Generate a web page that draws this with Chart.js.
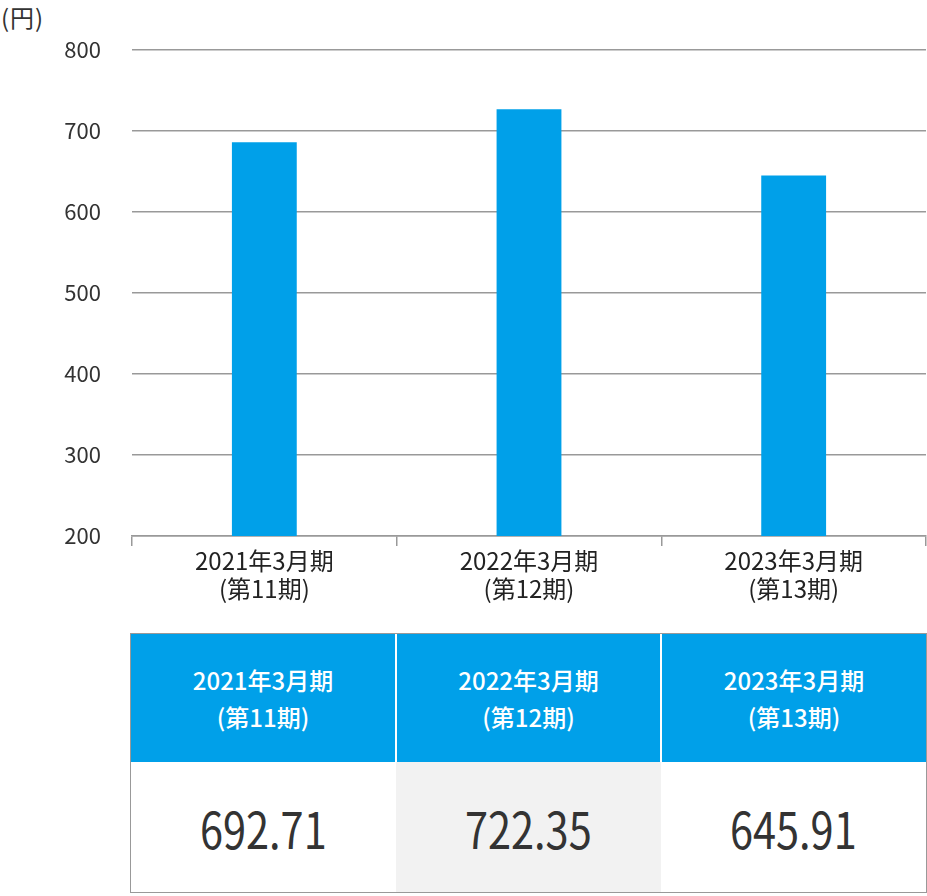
<!DOCTYPE html>
<html lang="ja">
<head>
<meta charset="utf-8">
<script src="https://cdn.jsdelivr.net/npm/chart.js@4.4.0/dist/chart.umd.min.js"></script>
<style>
  body { margin: 0; background: #fff; font-family: "Noto Sans CJK JP", sans-serif; }
  #wrap { position: relative; width: 927px; height: 896px; }
  #unit { position: absolute; left: 1px; top: -1px; font-size: 24px; letter-spacing: 1px; color: #333; }
  #chartBox { position: absolute; left: 0; top: 0; width: 927px; height: 616px; }
  #tbl { position: absolute; left: 131px; top: 634px; width: 795px; border-collapse: collapse; table-layout: fixed; }
  #tbl th { background: #00a0e9; color: #fff; font-weight: 500; font-size: 24px; line-height: 37px; height: 128px; padding: 0; border-left: 2px solid #fff; }
  #tbl th:first-child { border-left: 0; }
  #tbl td { height: 130px; padding: 0; text-align: center; color: #333; font-size: 50px; }
  #tbl td span { display: inline-block; transform: scaleX(0.83); }
  #tbl td.alt { background: #f2f2f2; }
  #tbl { outline: 1.5px solid #999; }
</style>
</head>
<body>
<div id="wrap">
  <div id="unit">(円)</div>
  <div id="chartBox"><canvas id="paramChart"></canvas></div>
  <table id="tbl"><thead><tr id="headRow"></tr></thead><tbody><tr id="valRow"></tr></tbody></table>
</div>
<script>
var periods = ['2021年3月期', '2022年3月期', '2023年3月期'];
var terms = ['(第11期)', '(第12期)', '(第13期)'];
var barValues = [686, 727, 645];
var tableValues = ['692.71', '722.35', '645.91'];
var yTicks = [200, 300, 400, 500, 600, 700, 800];

var labels = [];
for (var i in periods) {
  labels.push([periods[i], terms[i]]);
  var th = document.createElement('th');
  th.innerHTML = periods[i] + '<br>' + terms[i];
  document.getElementById('headRow').appendChild(th);
  var td = document.createElement('td');
  td.innerHTML = '<span>' + tableValues[i] + '</span>';
  if (i == 1) td.className = 'alt';
  document.getElementById('valRow').appendChild(td);
}

var chartdata = {
  labels: labels,
  datasets: [
    {
      label: '円',
      backgroundColor: '#00a0e9',
      borderWidth: 0,
      barPercentage: 0.245,
      categoryPercentage: 1,
      data: barValues
    }
  ]
};

var ctx = document.getElementById('paramChart');
var barGraph = new Chart(ctx, {
  type: 'bar',
  data: chartdata,
  options: {
    responsive: true,
    maintainAspectRatio: false,
    animation: false,
    layout: { padding: { top: 50, right: 1, left: 0, bottom: 0 } },
    plugins: { legend: { display: false }, tooltip: { enabled: false } },
    scales: {
      x: {
        offset: true,
        grid: { drawOnChartArea: false, drawTicks: true, tickLength: 10, color: '#999', lineWidth: 1.5, offset: true },
        border: { display: true, color: '#999', width: 1.5 },
        ticks: { color: '#222', padding: 0, font: { family: '"Noto Sans CJK JP"', size: 24, lineHeight: 1.2 } },
        afterFit: function(s) { s.height = 80; }
      },
      y: {
        min: yTicks[0],
        max: yTicks[yTicks.length - 1],
        grid: { drawTicks: false, color: '#999', lineWidth: 1.5 },
        border: { display: false },
        ticks: { stepSize: 100, color: '#333', padding: 31, font: { family: '"Noto Sans CJK JP"', size: 22 } },
        afterFit: function(s) { s.width = 132; }
      }
    }
  }
});
</script>
</body>
</html>
